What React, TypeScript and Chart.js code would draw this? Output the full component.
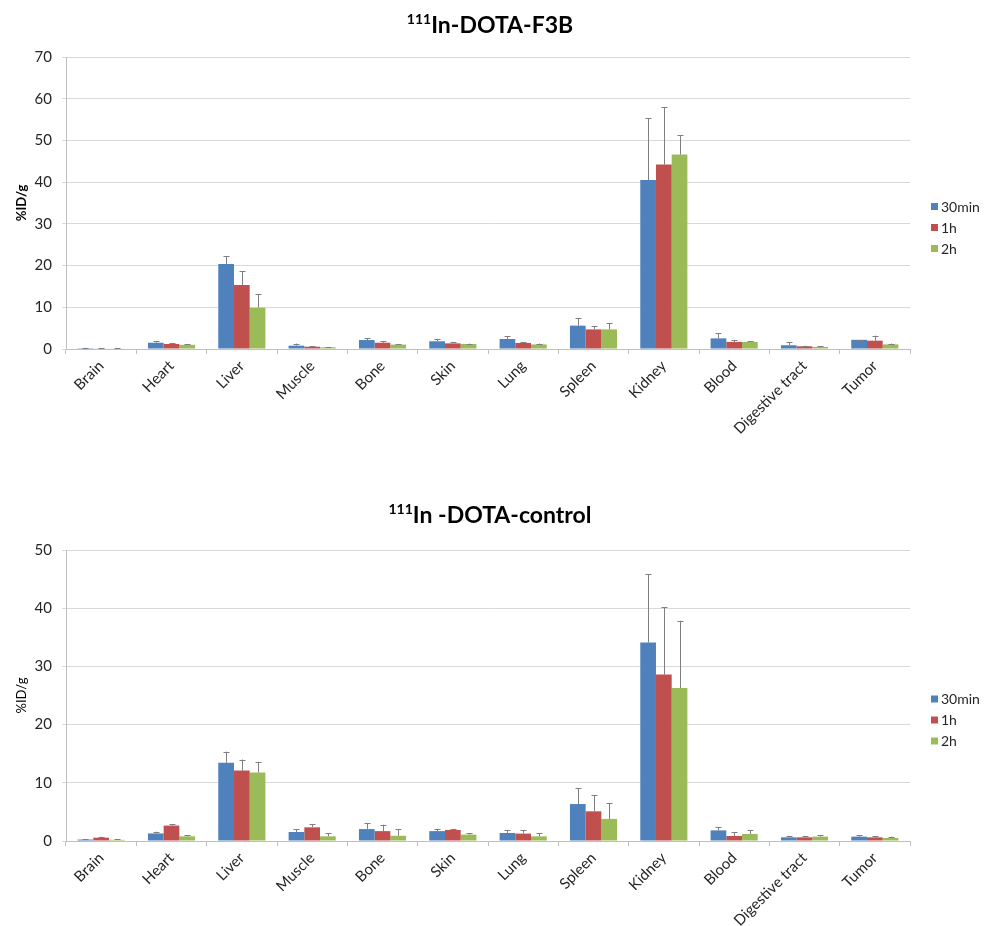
import React, { useEffect, useRef } from "react";
import { Chart, registerables } from "chart.js";

Chart.register(...registerables);

const categories = [
  "Brain", "Heart", "Liver", "Muscle", "Bone", "Skin", "Lung", "Spleen",
  "Kidney", "Blood", "Digestive tract", "Tumor",
];
const seriesNames = ["30min", "1h", "2h"];
const seriesColors = ["#4F81BD", "#C0504D", "#9BBB59"];

// 111In-DOTA-F3B
const f3b30min = [0.2, 1.5, 20.4, 0.8, 2.15, 1.85, 2.4, 5.6, 40.5, 2.55, 0.9, 2.2];
const f3b30minSd = [0.1, 0.35, 1.9, 0.5, 0.45, 0.45, 0.7, 1.75, 14.8, 1.2, 0.7, 0.05];
const f3b1h = [0.1, 1.2, 15.35, 0.55, 1.5, 1.35, 1.45, 4.7, 44.2, 1.7, 0.65, 2.0];
const f3b1hSd = [0.05, 0.2, 3.25, 0.1, 0.3, 0.25, 0.2, 0.7, 13.8, 0.4, 0.15, 1.2];
const f3b2h = [0.1, 1.0, 9.9, 0.4, 1.05, 1.2, 1.1, 4.7, 46.6, 1.7, 0.5, 1.1];
const f3b2hSd = [0.05, 0.15, 3.2, 0.1, 0.15, 0.1, 0.2, 1.5, 4.7, 0.2, 0.1, 0.2];
const f3bTicks = [0, 10, 20, 30, 40, 50, 60, 70];

// 111In -DOTA-control
const ctl30min = [0.25, 1.3, 13.45, 1.55, 2.05, 1.7, 1.37, 6.35, 34.1, 1.83, 0.63, 0.75];
const ctl30minSd = [0.05, 0.3, 1.9, 0.5, 1.05, 0.3, 0.53, 2.7, 11.7, 0.62, 0.17, 0.22];
const ctl1h = [0.57, 2.65, 12.1, 2.35, 1.7, 1.9, 1.27, 5.1, 28.6, 0.86, 0.63, 0.63];
const ctl1hSd = [0.18, 0.2, 1.9, 0.5, 1.1, 0.2, 0.56, 2.75, 11.6, 0.64, 0.17, 0.22];
const ctl2h = [0.2, 0.8, 11.75, 0.8, 0.9, 1.1, 0.8, 3.8, 26.3, 1.2, 0.75, 0.52];
const ctl2hSd = [0.1, 0.23, 1.85, 0.5, 1.1, 0.2, 0.5, 2.7, 11.55, 0.63, 0.22, 0.23];
const ctlTicks = [0, 10, 20, 30, 40, 50];

const FONT = "Lato, 'Open Sans', sans-serif";

type Props = {
  width: number;
  height: number;
  areaTop: number;
  areaBottom: number;
  titleSup: string;
  titleMain: string;
  titleY: number;
  yTitleBold: boolean;
  ticks: number[];
  values: number[][];
  errors: number[][];
};

function BarChart(p: Props) {
  const ref = useRef<HTMLCanvasElement | null>(null);

  useEffect(() => {
    if (!ref.current) return;
    const padLeft = 2;
    const areaLeft = 58;
    const areaRight = 902;

    const titlePlugin = {
      id: "supTitle",
      afterDraw(chart: any) {
        const ctx = chart.ctx;
        ctx.save();
        const supFont = `bold 14px ${FONT}`;
        const mainFont = `bold 23px ${FONT}`;
        ctx.font = supFont;
        const wSup = ctx.measureText(p.titleSup).width;
        ctx.font = mainFont;
        const wMain = ctx.measureText(p.titleMain).width;
        const cx = (areaLeft + areaRight) / 2 + 2;
        let x = cx - (wSup + wMain) / 2;
        ctx.fillStyle = "#000000";
        ctx.textBaseline = "alphabetic";
        ctx.textAlign = "left";
        ctx.font = supFont;
        ctx.fillText(p.titleSup, x, p.titleY - 1);
        x += wSup;
        ctx.font = mainFont;
        ctx.fillText(p.titleMain, x, p.titleY + 8);
        ctx.restore();
      },
    };

    const errorPlugin = {
      id: "errorBars",
      afterDatasetsDraw(chart: any) {
        const ctx = chart.ctx;
        const yScale = chart.scales.y;
        ctx.save();
        ctx.strokeStyle = "#7F7F7F";
        ctx.lineWidth = 1;
        chart.data.datasets.forEach((ds: any, di: number) => {
          const meta = chart.getDatasetMeta(di);
          meta.data.forEach((el: any, i: number) => {
            const v = ds.data[i];
            const e = p.errors[di][i];
            const yTop = yScale.getPixelForValue(v + e);
            const x = Math.round(el.x) + 0.5;
            ctx.beginPath();
            ctx.moveTo(x, el.y);
            ctx.lineTo(x, yTop);
            ctx.moveTo(x - 3, Math.round(yTop) + 0.5);
            ctx.lineTo(x + 3, Math.round(yTop) + 0.5);
            ctx.stroke();
          });
        });
        ctx.restore();
      },
    };

    const legendPlugin = {
      id: "sideLegend",
      afterDraw(chart: any) {
        const ctx = chart.ctx;
        const area = chart.chartArea;
        const mid = (area.top + area.bottom) / 2 + 25;
        const gap = 21;
        ctx.save();
        ctx.font = `14px ${FONT}`;
        ctx.textBaseline = "middle";
        ctx.textAlign = "left";
        seriesNames.forEach((name, i) => {
          const y = mid + (i - 1) * gap;
          ctx.fillStyle = seriesColors[i];
          ctx.fillRect(area.right + 21, y - 4, 7, 7);
          ctx.fillStyle = "#262626";
          ctx.fillText(name, area.right + 31, y);
        });
        ctx.restore();
      },
    };

    const chart = new Chart(ref.current, {
      type: "bar",
      data: {
        labels: categories,
        datasets: seriesNames.map((name, i) => ({
          label: name,
          data: p.values[i],
          backgroundColor: seriesColors[i],
          borderWidth: 0,
          categoryPercentage: 0.67,
          barPercentage: 1.0,
        })),
      },
      options: {
        responsive: false,
        animation: false,
        layout: {
          padding: { top: p.areaTop, left: padLeft, right: p.width - areaRight, bottom: 0 },
        },
        plugins: {
          legend: { display: false },
          title: { display: false },
          tooltip: { enabled: false },
        },
        scales: {
          x: {
            offset: true,
            grid: {
              offset: true,
              drawOnChartArea: false,
              color: "#BFBFBF",
              tickLength: 5,
            },
            border: { color: "#BFBFBF" },
            ticks: {
              minRotation: 45,
              maxRotation: 45,
              autoSkip: false,
              padding: 3,
              color: "#262626",
              font: { family: FONT, size: 15 },
            },
            afterFit(scale: any) {
              scale.height = p.height - p.areaBottom;
            },
          },
          y: {
            min: 0,
            max: p.ticks[p.ticks.length - 1],
            afterBuildTicks(scale: any) {
              scale.ticks = p.ticks.map((v) => ({ value: v }));
            },
            grid: {
              color: "#D9D9D9",
              tickLength: 4,
            },
            border: { color: "#BFBFBF" },
            ticks: {
              padding: 10,
              color: "#262626",
              font: { family: FONT, size: 15 },
            },
            title: {
              display: true,
              text: "%ID/g",
              color: "#000000",
              font: { family: FONT, size: 13, weight: p.yTitleBold ? "bold" : "normal" },
            },
            afterFit(scale: any) {
              scale.width = areaLeft - padLeft;
            },
          },
        },
      } as any,
      plugins: [titlePlugin, errorPlugin, legendPlugin],
    });
    return () => chart.destroy();
  }, []);

  return (
    <canvas
      ref={ref}
      width={p.width}
      height={p.height}
      style={{ display: "block", width: p.width, height: p.height }}
    />
  );
}

export default function App() {
  return (
    <div style={{ width: 976, background: "#ffffff" }}>
      <BarChart
        width={976}
        height={462}
        areaTop={49}
        areaBottom={341}
        titleSup="111"
        titleMain="In-DOTA-F3B"
        titleY={17}
        yTitleBold={true}
        ticks={f3bTicks}
        values={[f3b30min, f3b1h, f3b2h]}
        errors={[f3b30minSd, f3b1hSd, f3b2hSd]}
      />
      <BarChart
        width={976}
        height={456}
        areaTop={80}
        areaBottom={371}
        titleSup="111"
        titleMain="In -DOTA-control"
        titleY={45}
        yTitleBold={false}
        ticks={ctlTicks}
        values={[ctl30min, ctl1h, ctl2h]}
        errors={[ctl30minSd, ctl1hSd, ctl2hSd]}
      />
    </div>
  );
}
